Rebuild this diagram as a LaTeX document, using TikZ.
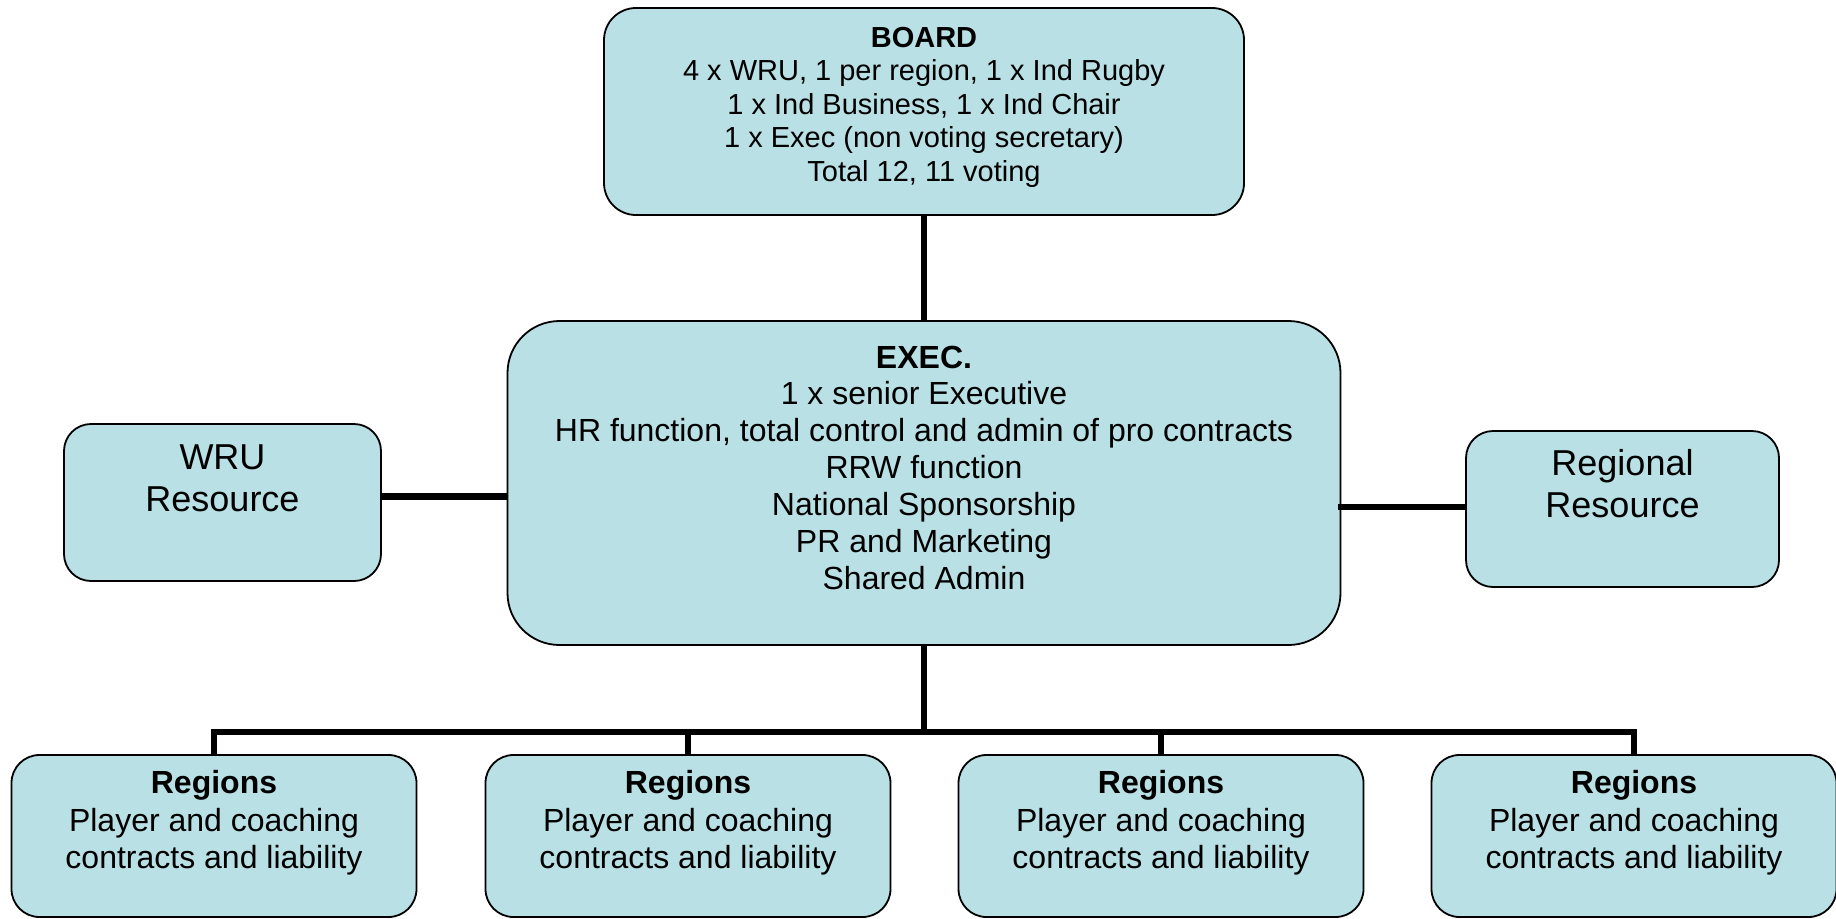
\documentclass[tikz,border=0pt]{standalone}
\usepackage{fontspec}
\setmainfont{Liberation Sans}
\definecolor{boxfill}{RGB}{185,224,228}
\tikzset{
  box/.style={draw=black, line width=1.8pt, fill=boxfill, inner sep=0pt},
  txt/.style={anchor=north, align=center, inner sep=0pt},
  conn/.style={draw=black, line width=6.5pt, line join=miter}
}
\begin{document}
\begin{tikzpicture}[x=1pt,y=-1pt]
\useasboundingbox (0,0) rectangle (1836,918);
% boxes
\node[box, rounded corners=32pt, minimum width=640pt, minimum height=207pt] (board) at (924,111.5) {};
\node[box, rounded corners=52pt, minimum width=833pt, minimum height=324pt] (exec) at (924,483) {};
\node[box, rounded corners=27pt, minimum width=317pt, minimum height=157pt] (wru) at (222.5,502.5) {};
\node[box, rounded corners=27pt, minimum width=313pt, minimum height=156pt] (reg) at (1622.5,509) {};
\foreach \i/\x in {1/214,2/688,3/1161,4/1634}{
  \node[box, rounded corners=28pt, minimum width=405pt, minimum height=162pt] (r\i) at (\x,836) {};
  \node[txt, font=\fontsize{32}{37.5}\selectfont] (r\i t) at (\x,770.5) {\textbf{Regions}\\Player and coaching\\contracts and liability};
}
% texts
\node[txt, font=\fontsize{29}{33.5}\selectfont] (boardt) at (924,27) {\textbf{BOARD}\\4 x WRU, 1 per region, 1 x Ind Rugby\\1 x Ind Business, 1 x Ind Chair\\1 x Exec (non voting secretary)\\Total 12, 11 voting};
\node[txt, font=\fontsize{32}{36.9}\selectfont] (exect) at (924,345.5) {\textbf{EXEC.}\\1 x senior Executive\\HR function, total control and admin of pro contracts\\RRW function\\National Sponsorship\\PR and Marketing\\Shared Admin};
\node[txt, font=\fontsize{36}{42}\selectfont] (wrut) at (222.5,445) {WRU\\Resource};
\node[txt, font=\fontsize{36}{42}\selectfont] (regt) at (1622.5,449) {Regional\\Resource};
% connectors
\coordinate (bus) at (924,732);
\draw[conn] (board.south) -- (exec.north);
\draw[conn] ([yshift=6pt]wru.east) -- ([yshift=6pt]wru.east -| exec.west);
\draw[conn] ([xshift=-3pt,yshift=2pt]exec.east |- reg.west) -- ([yshift=2pt]reg.west);
\draw[conn] (exec.south) -- (bus);
\draw[conn] (r1.north) -- (r1.north |- bus) -- (r4.north |- bus) -- (r4.north);
\draw[conn] (r2.north) -- (r2.north |- bus);
\draw[conn] (r3.north) -- (r3.north |- bus);
\end{tikzpicture}
\end{document}
